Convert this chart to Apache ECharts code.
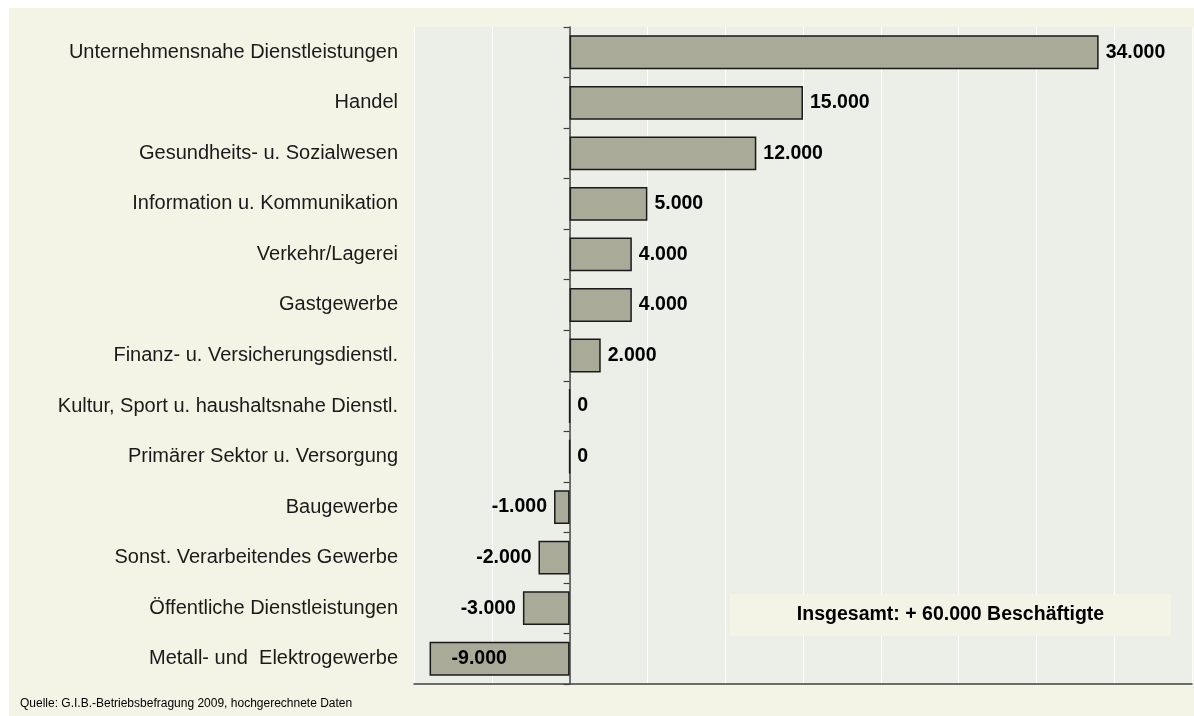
<!DOCTYPE html>
<html>
<head>
<meta charset="utf-8">
<script src="https://cdn.jsdelivr.net/npm/echarts@6/dist/echarts.min.js"></script>
<style>
  html, body { margin: 0; padding: 0; background: #ffffff; }
  #bg { position: absolute; left: 9px; top: 8px; width: 1185px; height: 708px; background: #F3F4E6; }
  #chart { position: absolute; left: 0; top: 0; width: 1194px; height: 716px; }
</style>
</head>
<body>
<div id="bg"></div>
<div id="chart"></div>
<script>
const categories = [
  'Unternehmensnahe Dienstleistungen',
  'Handel',
  'Gesundheits- u. Sozialwesen',
  'Information u. Kommunikation',
  'Verkehr/Lagerei',
  'Gastgewerbe',
  'Finanz- u. Versicherungsdienstl.',
  'Kultur, Sport u. haushaltsnahe Dienstl.',
  'Primärer Sektor u. Versorgung',
  'Baugewerbe',
  'Sonst. Verarbeitendes Gewerbe',
  'Öffentliche Dienstleistungen',
  'Metall- und  Elektrogewerbe'
];
const values = [34000, 15000, 12000, 5000, 4000, 4000, 2000, 0, 0, -1000, -2000, -3000, -9000];
const xMin = -10000, xMax = 40000, xStep = 5000;
const sourceText = 'Quelle: G.I.B.-Betriebsbefragung 2009, hochgerechnete Daten';
const totalText = 'Insgesamt: + 60.000 Beschäftigte';

const FONT = '"Liberation Sans", Arial, sans-serif';
function fmt(v) {
  const s = Math.abs(v).toString().replace(/\B(?=(\d{3})+(?!\d))/g, '.');
  return (v < 0 ? '-' : '') + s;
}

const labelBase = { show: true, fontFamily: FONT, fontWeight: 'bold', fontSize: 19.5, color: '#000', distance: 7, formatter: p => fmt(p.value) };
const seriesData = values.map((v, i) => {
  const item = { value: v };
  if (v < 0 && v <= -5000) {
    item.label = Object.assign({}, labelBase, { position: 'insideLeft', distance: 22 });
  } else if (v < 0) {
    item.label = Object.assign({}, labelBase, { position: 'left' });
  }
  return item;
});

const chart = echarts.init(document.getElementById('chart'), null, { renderer: 'canvas' });
chart.setOption({
  backgroundColor: 'transparent',
  animation: false,
  grid: { left: 414, right: 2, top: 27, bottom: 32, show: true, backgroundColor: '#ECEEE8', borderWidth: 0 },
  xAxis: {
    type: 'value', min: xMin, max: xMax, interval: xStep,
    axisLabel: { show: false },
    axisTick: { show: false },
    axisLine: { show: true, onZero: false, lineStyle: { color: '#404040', width: 1.5 } },
    splitLine: { show: true, lineStyle: { color: '#ffffff', width: 1 } }
  },
  yAxis: [
    {
      type: 'category', data: categories, inverse: true,
      axisLine: { show: true, onZero: true, lineStyle: { color: '#404040', width: 1.5 } },
      axisTick: { show: true, length: 6, inside: false, lineStyle: { color: '#404040', width: 1.2 } },
      axisLabel: { show: false },
      splitLine: { show: false }
    },
    {
      type: 'category', data: categories, inverse: true, position: 'left',
      axisLine: { show: false }, axisTick: { show: false },
      axisLabel: { show: true, margin: 16, fontFamily: FONT, fontSize: 20, color: '#1a1a1a' },
      splitLine: { show: false }
    }
  ],
  series: [{
    type: 'bar',
    data: seriesData,
    yAxisIndex: 0,
    barWidth: '67%',
    itemStyle: { color: '#A9AA98', borderColor: '#1a1a1a', borderWidth: 1.5 },
    label: Object.assign({}, labelBase, { position: 'right' })
  }],
  graphic: [
    { type: 'rect', left: 730, top: 594, shape: { width: 441, height: 42 }, style: { fill: '#F3F4E6' }, z: 10 },
    { type: 'text', x: 950.5, y: 615, z: 11, style: { text: totalText, font: 'bold 19.5px "Liberation Sans", Arial, sans-serif', fill: '#000', textAlign: 'center', textVerticalAlign: 'middle' } },
    { type: 'text', x: 20, y: 704, z: 11, style: { text: sourceText, font: '12px "Liberation Sans", Arial, sans-serif', fill: '#000', textAlign: 'left', textVerticalAlign: 'middle' } }
  ]
});
</script>
</body>
</html>
